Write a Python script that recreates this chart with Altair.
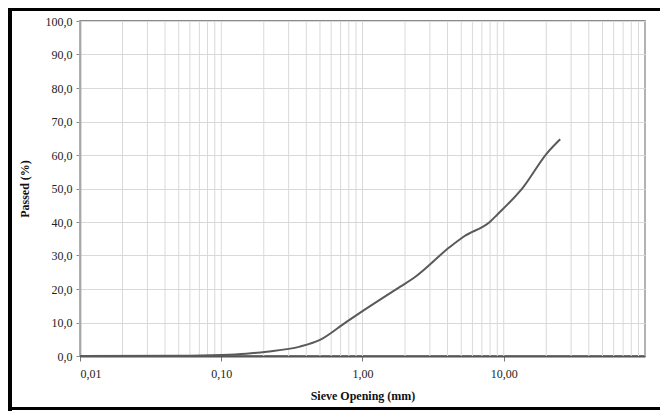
import altair as alt
import pandas as pd

# Sieve sizes (mm) and percentage passing
sizes = [0.01, 0.05, 0.10, 0.15, 0.21, 0.36, 0.50, 0.77, 1.00, 1.85, 2.29,
         4.17, 5.19, 8.00, 8.95, 13.8, 20.2, 25.1]
passed = [0.0, 0.05, 0.3, 0.7, 1.3, 2.8, 4.8, 10.2, 13.4, 20.7, 23.2,
          32.6, 35.6, 40.1, 42.1, 50.5, 60.5, 64.7]

x_ticks = [0.01, 0.1, 1, 10]
y_ticks = [0, 10, 20, 30, 40, 50, 60, 70, 80, 90, 100]
grid_x = [round(m * 10 ** e, 4) for e in range(-2, 2) for m in range(1, 10)] + [100]

curve = pd.DataFrame({"size": sizes, "passed": passed})
grid = pd.DataFrame({"size": grid_x})

FONT = "Liberation Serif"
xscale = alt.Scale(type="log", domain=[0.01, 100], nice=False)
yscale = alt.Scale(domain=[0, 100], nice=False)

x_axis = alt.Axis(values=x_ticks, grid=False, tickSize=5, tickColor="#777",
                  domainColor="#555", domainWidth=2,
                  labelFont=FONT, labelFontSize=12, labelColor="#222",
                  titleFont=FONT, titleFontSize=12, titleFontWeight="bold", titleColor="#111",
                  labelExpr="replace(format(datum.value, '.2f'), '.', ',')",
                  labelPadding=7, titlePadding=11)
x_enc = alt.X("size:Q", scale=xscale, title="Sieve Opening (mm)", axis=x_axis)

grid_layer = alt.Chart(grid).mark_rule(color="#d9d9d9", strokeWidth=1).encode(x=x_enc)

line_layer = alt.Chart(curve).mark_line(
    color="#5a5a5a", strokeWidth=2, interpolate="monotone"
).encode(
    x=x_enc,
    y=alt.Y("passed:Q", scale=yscale, title="Passed (%)",
            axis=alt.Axis(values=y_ticks, grid=True, gridColor="#d9d9d9", tickSize=4,
                          tickColor="#888", domainColor="#777", domainWidth=1.5,
                          labelFont=FONT, labelFontSize=12, labelColor="#222",
                          titleFont=FONT, titleFontSize=12, titleFontWeight="bold",
                          titleColor="#111",
                          labelExpr="replace(format(datum.value, '.1f'), '.', ',')",
                          labelPadding=4, titlePadding=14)),
)

one = alt.Data(values=[{"a": 1}])
top_border = alt.Chart(one).mark_rule(color="black", strokeWidth=3).encode(
    x=alt.value(-72), x2=alt.value(580), y=alt.value(-11.5))
left_border = alt.Chart(one).mark_rule(color="black", strokeWidth=4).encode(
    x=alt.value(-70), y=alt.value(-13), y2=alt.value(390))
bottom_border = alt.Chart(one).mark_rule(color="black", strokeWidth=3).encode(
    x=alt.value(-72), x2=alt.value(580), y=alt.value(387.5))

chart = alt.layer(grid_layer, line_layer, top_border, left_border, bottom_border).properties(
    width=565, height=335,
    padding={"left": 72, "top": 13, "right": 15, "bottom": 55},
    autosize=alt.AutoSizeParams(type="none"),
    background="white",
).configure_view(
    stroke="#666", strokeWidth=1.5
)

chart.save("out.html", embed_options={"renderer": "svg", "actions": False})
